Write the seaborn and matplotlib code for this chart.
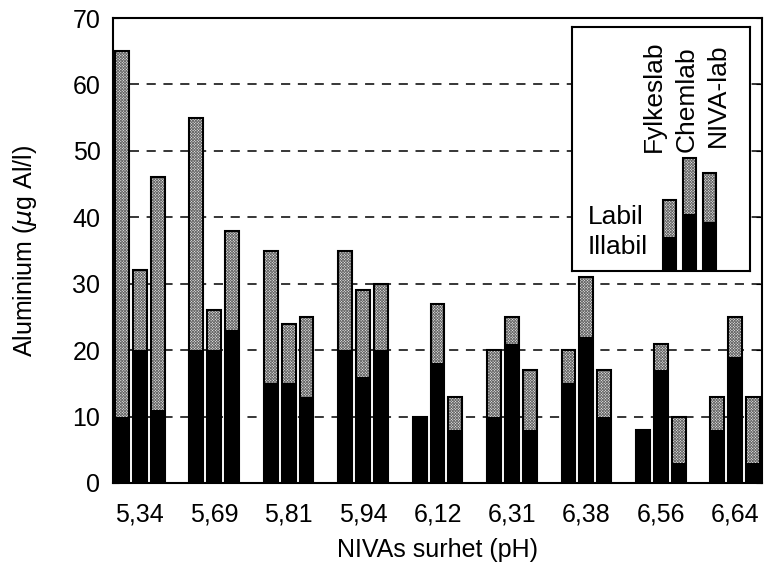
import pandas as pd
import numpy as np
import seaborn as sns
import matplotlib.pyplot as plt

# pH groups and labs
ph = ['5,34', '5,69', '5,81', '5,94', '6,12', '6,31', '6,38', '6,56', '6,64']
labs = ['Fylkeslab', 'Chemlab', 'NIVA-lab']

# illabil (black part) and total (bar top) in ug Al/l
illabil_fylkes = [10, 20, 15, 20, 10, 10, 15, 8, 8]
illabil_chem = [20, 20, 15, 16, 18, 21, 22, 17, 19]
illabil_niva = [11, 23, 13, 20, 8, 8, 10, 3, 3]
total_fylkes = [65, 55, 35, 35, 10, 20, 20, 8, 13]
total_chem = [32, 26, 24, 29, 27, 25, 31, 21, 25]
total_niva = [46, 38, 25, 30, 13, 17, 17, 10, 13]

# legend swatch heights (fraction of legend box)
legend_total = [0.29, 0.465, 0.40]
legend_illabil = [0.14, 0.235, 0.20]

df = pd.DataFrame({
    'pH': ph * 3,
    'lab': np.repeat(labs, len(ph)),
    'illabil': illabil_fylkes + illabil_chem + illabil_niva,
    'total': total_fylkes + total_chem + total_niva,
})
df_leg = pd.DataFrame({'lab': labs, 'illabil': legend_illabil, 'total': legend_total})

sns.set_style('ticks')
plt.rcParams['font.family'] = ['Liberation Sans', 'DejaVu Sans']
plt.rcParams['hatch.linewidth'] = 0.6
for k in ['text.color', 'axes.labelcolor', 'xtick.color', 'ytick.color']:
    plt.rcParams[k] = 'black'

gray = {l: '#ececec' for l in labs}
black = {l: 'black' for l in labs}
HATCH = 'xxxxxxxxxxxx'
FS = 18
GAP = 0.22


def stacked(ax, data, x, width):
    sns.barplot(data=data, x=x, y='total', hue='lab', hue_order=labs, palette=gray,
                width=width, gap=GAP, errorbar=None, legend=False, linewidth=0,
                edgecolor='#6a6a6a', ax=ax)
    for p in ax.patches:
        p.set_hatch(HATCH)
    sns.barplot(data=data, x=x, y='illabil', hue='lab', hue_order=labs, palette=black,
                width=width, gap=GAP, errorbar=None, legend=False, linewidth=0, ax=ax)
    sns.barplot(data=data, x=x, y='total', hue='lab', hue_order=labs, palette=black,
                width=width, gap=GAP, errorbar=None, legend=False, fill=False,
                linewidth=1.5, ax=ax)


fig = plt.figure(figsize=(7.67, 5.72), dpi=100)
ax = fig.add_axes([113 / 767, 1 - 483 / 572, 649 / 767, 465 / 572])

stacked(ax, df, 'pH', 0.72)

ax.set_xlim(-0.36, 8.36)
ax.set_ylim(0, 70)
ax.set_yticks(range(0, 71, 10))
ax.yaxis.grid(True, linestyle=(0, (6, 5)), color='black', linewidth=1.1)
ax.set_axisbelow(True)
for s in ax.spines.values():
    s.set_visible(True)
    s.set_linewidth(1.5)
    s.set_color('black')
ax.tick_params(axis='x', length=0, pad=14, labelsize=FS)
ax.tick_params(axis='y', direction='in', length=4, right=True, pad=9, labelsize=FS)
ax.set_xlabel('NIVAs surhet (pH)', fontsize=FS, labelpad=8)
ax.set_ylabel(r'Aluminium ($\mu$g Al/l)', fontsize=FS, labelpad=24)

# legend inset drawn as a small chart
ax_in = fig.add_axes([572 / 767, 1 - 271 / 572, 178 / 767, 244 / 572])
ax_in.set_facecolor('white')
stacked(ax_in, df_leg, 'lab', 0.8)
ax_in.set_xlim(-4.875, 4.025)
ax_in.set_ylim(0, 1)
ax_in.set_xticks([])
ax_in.set_yticks([])
ax_in.set_xlabel('')
ax_in.set_ylabel('')
for s in ax_in.spines.values():
    s.set_visible(True)
    s.set_linewidth(1.5)
    s.set_color('black')

for lab, xf, yf in zip(labs, [0.461, 0.646, 0.820], [0.488, 0.488, 0.508]):
    ax_in.text(xf, yf, lab, rotation=90, ha='center', va='bottom',
               fontsize=19, transform=ax_in.transAxes)
ax_in.text(0.09, 0.221, 'Labil', ha='left', va='center', fontsize=19,
           transform=ax_in.transAxes)
ax_in.text(0.09, 0.098, 'Illabil', ha='left', va='center', fontsize=19,
           transform=ax_in.transAxes)

fig.savefig('out.png', dpi=100, facecolor='white')
